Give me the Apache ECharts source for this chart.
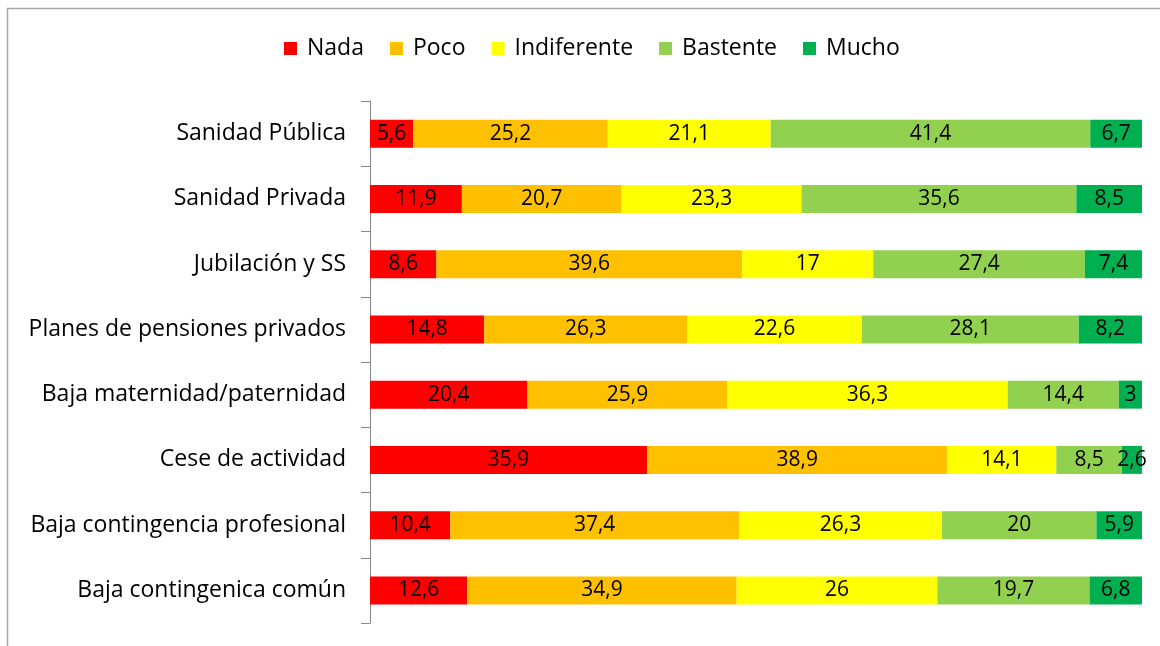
<!DOCTYPE html>
<html>
<head>
<meta charset="utf-8">
<script src="https://cdn.jsdelivr.net/npm/echarts@6/dist/echarts.min.js"></script>
<style>
  html, body { margin: 0; padding: 0; background: #fff; }
  #main { width: 1160px; height: 646px; }
</style>
</head>
<body>
<div id="main"></div>
<script>
// categorías (de arriba a abajo)
const categories = [
  'Sanidad Pública',
  'Sanidad Privada',
  'Jubilación y SS',
  'Planes de pensiones privados',
  'Baja maternidad/paternidad',
  'Cese de actividad',
  'Baja contingencia profesional',
  'Baja contingenica común'
];

const nada        = [5.6, 11.9, 8.6, 14.8, 20.4, 35.9, 10.4, 12.6];
const poco        = [25.2, 20.7, 39.6, 26.3, 25.9, 38.9, 37.4, 34.9];
const indiferente = [21.1, 23.3, 17, 22.6, 36.3, 14.1, 26.3, 26];
const bastente    = [41.4, 35.6, 27.4, 28.1, 14.4, 8.5, 20, 19.7];
const mucho       = [6.7, 8.5, 7.4, 8.2, 3, 2.6, 5.9, 6.8];

const seriesNames = ['Nada', 'Poco', 'Indiferente', 'Bastente', 'Mucho'];
const seriesData = [nada, poco, indiferente, bastente, mucho];
const colors = ['#ff0000', '#ffc000', '#ffff00', '#92d050', '#00b050'];

const font = '"Open Sans", "Noto Sans", sans-serif';

const chart = echarts.init(document.getElementById('main'));

chart.setOption({
  backgroundColor: '#fff',
  animation: false,
  color: colors,
  textStyle: { fontFamily: font },
  graphic: [{
    type: 'rect',
    shape: { x: 7.5, y: 8.5, width: 1200, height: 700 },
    style: { fill: 'none', stroke: '#a6a6a6', lineWidth: 1.5 },
    silent: true
  }],
  legend: {
    data: seriesNames,
    top: 32,
    left: 279,
    itemWidth: 13,
    itemHeight: 13,
    itemGap: 26,
    icon: 'rect',
    textStyle: { fontSize: 23, color: '#000', fontFamily: font, padding: [0, 0, 0, 5] }
  },
  grid: {
    left: 370,
    right: 18,
    top: 101,
    bottom: 23,
    containLabel: false
  },
  xAxis: {
    type: 'value',
    min: 0,
    max: 100,
    show: false
  },
  yAxis: {
    type: 'category',
    data: categories,
    inverse: true,
    axisLine: { show: true, lineStyle: { color: '#868686', width: 1 } },
    axisTick: { show: true, length: 9, lineStyle: { color: '#868686' } },
    axisLabel: { color: '#000', fontSize: 23, margin: 24, fontFamily: font },
    splitLine: { show: false }
  },
  series: seriesData.map((data, i) => ({
    name: seriesNames[i],
    type: 'bar',
    stack: 'total',
    barWidth: 28,
    data: data,
    label: {
      show: true,
      position: 'inside',
      color: '#000',
      fontSize: 21,
      fontFamily: font,
      formatter: p => String(p.value).replace('.', ',')
    }
  }))
});
</script>
</body>
</html>
